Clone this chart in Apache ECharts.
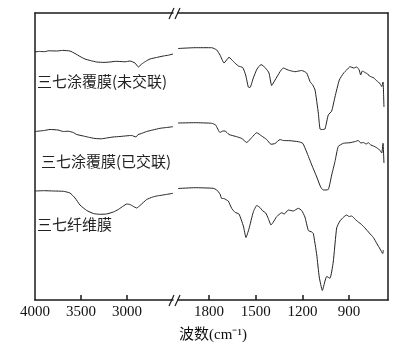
<!DOCTYPE html>
<html><head><meta charset="utf-8">
<script src="https://cdn.jsdelivr.net/npm/echarts@6/dist/echarts.min.js"></script>
<style>html,body{margin:0;padding:0;background:#fff}#c{width:419px;height:351px}</style>
</head><body><div id="c"></div>
<script>
const leftTicks = [4000, 3500, 3000];
const rightTicks = [1800, 1500, 1200, 900];
const names = ['三七涂覆膜(未交联)', '三七涂覆膜(已交联)', '三七纤维膜'];
const xTitle = '波数(cm⁻¹)';

// [wavenumber, relative transmittance (a.u.)]
const c1Left = [[4000,248],[3950,248.6],[3900,248.3],[3850,249.2],[3764,249],[3700,249.6],[3620,249],[3565,246.5],[3510,243.5],[3457,241],[3400,239.5],[3329,238],[3250,237.6],[3185,238],[3120,238.7],[3076,238.5],[3020,238.2],[2967,239],[2913,237],[2877,233],[2840,236],[2800,238.5],[2750,241],[2680,242.5],[2605,244],[2550,244.8],[2500,246]];
const c1Right = [[2000,251.5],[1891,252.3],[1783,252.3],[1751,250],[1730,245],[1704,237],[1672,242.7],[1644,238.5],[1612,234],[1584,232.5],[1565,225],[1548,213],[1537,212.5],[1516,222],[1492,231],[1466,235.5],[1436,231.7],[1415,227],[1398,214.5],[1376,220],[1344,228.3],[1323,232],[1293,230],[1270,229],[1248,228.3],[1205,229.5],[1173,227],[1151,218.3],[1134,215],[1119,210],[1098,187],[1087,171],[1071,170.5],[1055,171],[1034,185],[1012,189],[991,203],[963,220],[935,227],[916,230],[894,233.3],[870,232],[851,233],[835,230],[826,225],[815,229],[798,227.5],[780,226],[770,224],[755,223],[740,222],[725,219.5],[712,218],[700,216],[690,213.5],[682,218],[676,193]];
const c2Left = [[4000,168.5],[3900,169.5],[3837,170.5],[3750,170],[3692,168.5],[3640,168.8],[3584,167.5],[3547,165.5],[3475,164],[3420,162.8],[3348,161.5],[3280,161.2],[3221,162],[3152,163],[3076,163.5],[3000,164.2],[2949,164.5],[2902,163],[2880,165.5],[2859,166],[2786,168.5],[2720,170],[2641,171.7],[2570,172.5],[2500,173.3]];
const c2Right = [[2000,177],[1891,177.3],[1783,176.7],[1758,175],[1730,167.5],[1712,169],[1698,169],[1672,165.5],[1623,163.3],[1590,161.5],[1558,157.5],[1526,162.5],[1494,167.3],[1462,164],[1430,160.5],[1402,155.7],[1376,156.5],[1344,160.5],[1323,159.5],[1280,159.3],[1227,158.3],[1198,156.7],[1173,148],[1140,135],[1108,123],[1083,113],[1066,110],[1034,110.5],[1012,125],[991,138.3],[970,153.5],[937,156.7],[894,157.3],[860,158.5],[841,159.5],[825,157],[809,157.5],[790,156],[777,157.3],[760,155],[744,154],[725,152.5],[712,151],[700,149.5],[690,147],[682,156.7],[676,137]];
const c3Left = [[4000,109],[3900,109.3],[3800,109],[3692,108.7],[3620,107],[3565,102],[3511,95],[3438,89.5],[3366,86.5],[3300,85.7],[3221,86],[3149,88],[3095,90.5],[3040,94],[3003,96],[2967,95.5],[2930,93.5],[2895,92],[2859,94.5],[2786,100.5],[2720,103],[2677,104],[2641,104.5],[2570,105.6],[2500,106.7]];
const c3Right = [[2000,111.5],[1891,112.3],[1773,111.7],[1751,110],[1730,106],[1719,101.5],[1705,101.5],[1693,100.5],[1677,99],[1655,91.7],[1634,87.7],[1608,86],[1580,74],[1563,62.5],[1544,71],[1516,88],[1494,94.5],[1473,92.5],[1458,89.5],[1436,87],[1420,81.7],[1402,75],[1387,78],[1366,83.3],[1333,87.3],[1317,86],[1291,90],[1259,89],[1227,91.7],[1205,89.5],[1184,83],[1162,69.5],[1140,68],[1130,66.5],[1108,45],[1092,23],[1072,9.5],[1055,19],[1044,23.5],[1023,21.7],[1002,38],[980,72],[959,79],[935,83],[916,85],[900,83.5],[883,84],[860,80.5],[841,78],[820,75.5],[798,72],[770,67],[744,62.5],[720,56],[701,51],[684,46.5],[680,50]];

const chart = echarts.init(document.getElementById('c'), null, {renderer: 'canvas'});
const axisLineStyle = {color: '#1a1a1a', width: 1.5};
const labelStyle = {color: '#111', fontFamily: 'Liberation Serif', fontSize: 15, margin: 5, formatter: function (v) { return String(v); }};
const lineStyle = {color: '#222', width: 1};

function seg(data, xi) {
  return {type: 'line', data: data, xAxisIndex: xi, yAxisIndex: xi === 0 ? 0 : 1,
    showSymbol: false, smooth: 0.15, lineStyle: lineStyle, silent: true};
}

chart.setOption({
  animation: false,
  grid: [
    {left: 35, top: 13, width: 138, height: 287},
    {left: 178, top: 13, width: 210, height: 287}
  ],
  xAxis: [
    {type: 'value', gridIndex: 0, min: 2500, max: 4000, inverse: true, position: 'bottom',
      axisLine: {lineStyle: axisLineStyle}, splitLine: {show: false},
      axisTick: {inside: true, length: 5, lineStyle: axisLineStyle, customValues: leftTicks.slice(1)},
      axisLabel: Object.assign({customValues: leftTicks}, labelStyle)},
    {type: 'value', gridIndex: 0, min: 2500, max: 4000, inverse: true, position: 'top',
      axisLine: {lineStyle: axisLineStyle}, splitLine: {show: false}, axisTick: {show: false}, axisLabel: {show: false}},
    {type: 'value', gridIndex: 1, min: 650, max: 2000, inverse: true, position: 'bottom',
      axisLine: {lineStyle: axisLineStyle}, splitLine: {show: false},
      axisTick: {inside: true, length: 5, lineStyle: axisLineStyle, customValues: rightTicks},
      axisLabel: Object.assign({customValues: rightTicks}, labelStyle)},
    {type: 'value', gridIndex: 1, min: 650, max: 2000, inverse: true, position: 'top',
      axisLine: {lineStyle: axisLineStyle}, splitLine: {show: false}, axisTick: {show: false}, axisLabel: {show: false}}
  ],
  yAxis: [
    {type: 'value', gridIndex: 0, min: 0, max: 287, position: 'left',
      axisLine: {show: true, lineStyle: axisLineStyle}, axisTick: {show: false}, axisLabel: {show: false}, splitLine: {show: false}},
    {type: 'value', gridIndex: 1, min: 0, max: 287, position: 'right',
      axisLine: {show: true, lineStyle: axisLineStyle}, axisTick: {show: false}, axisLabel: {show: false}, splitLine: {show: false}}
  ],
  series: [
    seg(c1Left, 0), seg(c1Right, 2),
    seg(c2Left, 0), seg(c2Right, 2),
    seg(c3Left, 0), seg(c3Right, 2)
  ],
  graphic: [
    {type: 'text', left: 37, top: 74, style: {text: names[0], font: '15px "Noto Sans CJK SC"', fill: '#222'}},
    {type: 'text', left: 41, top: 154, style: {text: names[1], font: '15px "Noto Sans CJK SC"', fill: '#222'}},
    {type: 'text', left: 37, top: 217, style: {text: names[2], font: '15px "Noto Sans CJK SC"', fill: '#222'}},
    {type: 'text', x: 213, y: 335, style: {text: xTitle, font: '15px "Liberation Serif", "Noto Sans CJK SC"', fill: '#111', textAlign: 'center', textVerticalAlign: 'middle'}},
    {type: 'rect', shape: {x: 172, y: 8, width: 7, height: 12}, style: {fill: '#fff'}},
    {type: 'rect', shape: {x: 172, y: 295, width: 7, height: 12}, style: {fill: '#fff'}},
    {type: 'line', shape: {x1: 169, y1: 19, x2: 174, y2: 8}, style: {stroke: '#1a1a1a', lineWidth: 1.2}},
    {type: 'line', shape: {x1: 175, y1: 19, x2: 180, y2: 8}, style: {stroke: '#1a1a1a', lineWidth: 1.2}},
    {type: 'line', shape: {x1: 169, y1: 306, x2: 174, y2: 295}, style: {stroke: '#1a1a1a', lineWidth: 1.2}},
    {type: 'line', shape: {x1: 175, y1: 306, x2: 180, y2: 295}, style: {stroke: '#1a1a1a', lineWidth: 1.2}}
  ]
});
</script></body></html>
